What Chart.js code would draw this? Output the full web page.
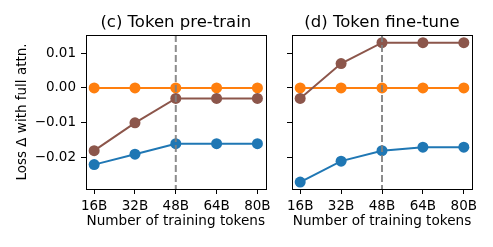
<!DOCTYPE html>
<html lang="en">
<head>
    <meta charset="UTF-8">
    <script src="https://cdn.jsdelivr.net/npm/chart.js"></script>
    <title>Token pre-train / fine-tune</title>
    <style>
        body { margin: 0; background: #fff; }
        #wrap { position: relative; width: 493px; height: 247px; }
        canvas { position: absolute; top: 0; }
    </style>
</head>
<body>
    <div id="wrap">
        <canvas id="pretrainChart" width="275" height="247" style="left:0"></canvas>
        <canvas id="finetuneChart" width="218" height="247" style="left:275px"></canvas>
    </div>

    <script>
        // data
        const tokens = [16, 32, 48, 64, 80];
        const tokenLabels = ['16B', '32B', '48B', '64B', '80B'];
        const cutoffTokens = 48;
        const yTicks = [-0.02, -0.01, 0.0, 0.01];

        const pretrainBlue = [-0.022, -0.019, -0.016, -0.016, -0.016];
        const pretrainOrange = [0, 0, 0, 0, 0];
        const pretrainBrown = [-0.018, -0.010, -0.003, -0.003, -0.003];

        const finetuneBlue = [-0.027, -0.021, -0.018, -0.017, -0.017];
        const finetuneOrange = [0, 0, 0, 0, 0];
        const finetuneBrown = [-0.003, 0.007, 0.013, 0.013, 0.013];

        Chart.defaults.font.family = 'DejaVu Sans';
        Chart.defaults.color = '#000';

        const BLUE = '#1f77b4', ORANGE = '#ff7f0e', BROWN = '#8c564b';

        function series(values, color, order) {
            return {
                data: tokens.map((t, i) => ({ x: t, y: values[i] })),
                borderColor: color,
                backgroundColor: color,
                pointBackgroundColor: color,
                pointBorderWidth: 0,
                pointRadius: 5.5,
                borderWidth: 2,
                order: order
            };
        }

        // dashed line at 48B plus the full box round the axes
        const extras = {
            id: 'extras',
            afterDatasetsDraw(chart) {
                const { ctx, chartArea, scales: { x } } = chart;
                const px = x.getPixelForValue(cutoffTokens);
                ctx.save();
                ctx.strokeStyle = 'rgba(127,127,127,0.9)';
                ctx.lineWidth = 2;
                ctx.setLineDash([7, 3]);
                ctx.beginPath();
                ctx.moveTo(px, chartArea.top);
                ctx.lineTo(px, chartArea.bottom);
                ctx.stroke();
                ctx.setLineDash([]);
                ctx.strokeStyle = '#000';
                ctx.lineWidth = 1;
                ctx.strokeRect(Math.round(chartArea.left) + 0.5, Math.round(chartArea.top) + 0.5,
                    Math.round(chartArea.right - chartArea.left), Math.round(chartArea.bottom - chartArea.top));
                // panel title centred over the axes
                const t = chart.options.plugins.panelTitle;
                ctx.fillStyle = '#000';
                ctx.font = '16.5px "DejaVu Sans"';
                ctx.textAlign = 'center';
                ctx.textBaseline = 'middle';
                ctx.fillText(t, (chartArea.left + chartArea.right) / 2, 22.5);
                ctx.restore();
            }
        };

        function makeOptions(title, yWidth, padRight, showY) {
            return {
                responsive: false,
                animation: false,
                devicePixelRatio: 1,
                layout: { padding: { left: 0, right: padRight, top: 35, bottom: 0 } },
                plugins: {
                    legend: { display: false },
                    tooltip: { enabled: false },
                    title: { display: false },
                    panelTitle: title
                },
                scales: {
                    x: {
                        type: 'linear',
                        min: 12.8,
                        max: 83.2,
                        afterBuildTicks: s => { s.ticks = tokens.map(v => ({ value: v })); },
                        afterFit: s => { s.height = 58; },
                        ticks: {
                            padding: 4,
                            font: { size: 13.5 },
                            maxRotation: 0,
                            callback: (v, i) => tokenLabels[i]
                        },
                        grid: { drawOnChartArea: false, tickLength: 5, tickColor: '#000' },
                        border: { color: '#000', width: 1 },
                        title: {
                            display: true,
                            text: 'Number of training tokens',
                            font: { size: 13.6 },
                            padding: { top: 0, bottom: 17 }
                        }
                    },
                    y: {
                        min: -0.029,
                        max: 0.0152,
                        afterBuildTicks: s => { s.ticks = yTicks.map(v => ({ value: v })); },
                        afterFit: s => { s.width = yWidth; },
                        ticks: {
                            display: showY,
                            padding: 5,
                            font: { size: 13.5 },
                            callback: v => (v < -1e-9 ? '\u2212' : '') + Math.abs(v).toFixed(2)
                        },
                        grid: { drawOnChartArea: false, tickLength: 5, tickColor: '#000' },
                        border: { color: '#000', width: 1 },
                        title: {
                            display: showY,
                            text: 'Loss \u0394 with full attn.',
                            font: { size: 13.5 },
                            padding: { top: 14, bottom: 0 }
                        }
                    }
                }
            };
        }

        new Chart(document.getElementById('pretrainChart'), {
            type: 'line',
            data: {
                datasets: [
                    series(pretrainBlue, BLUE, 3),
                    series(pretrainOrange, ORANGE, 2),
                    series(pretrainBrown, BROWN, 1)
                ]
            },
            options: makeOptions('(c) Token pre-train', 86, 8, true),
            plugins: [extras]
        });

        new Chart(document.getElementById('finetuneChart'), {
            type: 'line',
            data: {
                datasets: [
                    series(finetuneBlue, BLUE, 3),
                    series(finetuneOrange, ORANGE, 2),
                    series(finetuneBrown, BROWN, 1)
                ]
            },
            options: makeOptions('(d) Token fine-tune', 17, 21, false),
            plugins: [extras]
        });
    </script>
</body>
</html>
